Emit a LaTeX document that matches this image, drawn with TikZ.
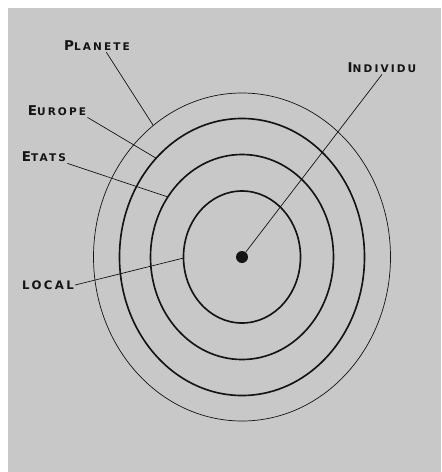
\documentclass[tikz,border=0pt]{standalone}
\usepackage{fontspec}
\usetikzlibrary{shapes.geometric}
\newfontfamily\tagfont[LetterSpace=20]{DejaVu Sans}
\definecolor{Paper}{HTML}{C8C8C8}
\definecolor{Ink}{HTML}{141414}
\newcommand{\bigsmall}[2]{{\fontsize{11.5}{12}\selectfont #1}{\fontsize{9}{10}\selectfont #2}}

\begin{document}
\begin{tikzpicture}[
            x=0.03cm, y=-0.03cm,
            ring/.style={
                ellipse,
                draw=Ink,
                line width=1.4pt,
                inner sep=0pt,
                outer sep=0pt
            },
            thinring/.style={ring, line width=0.6pt},
            tag/.style={font=\tagfont\bfseries, text=Ink, inner sep=1pt},
            leader/.style={draw=Ink, line width=0.6pt}
        ]
            \useasboundingbox (0,0) rectangle (441,472);
            \fill[Paper] (8,8) rectangle (441,472);

            % Rings, planet to local
            \node[thinring, minimum width=8.91cm, minimum height=9.84cm] (ringplanete) at (242,257) {};
            \node[ring, minimum width=7.35cm, minimum height=8.31cm] (ringeurope) at (242,257) {};
            \node[ring, minimum width=5.49cm, minimum height=6.15cm] (ringetats) at (242,257) {};
            \node[ring, minimum width=3.51cm, minimum height=3.96cm] (ringlocal) at (242,257) {};
            \node[circle, fill=Ink, minimum size=0.36cm, inner sep=0pt] (dot) at (242,257) {};

            % Labels
            \node[tag] (planete) at (97,46) {\bigsmall{P}{LANETE}};
            \node[tag] (individu) at (382,68) {\bigsmall{I}{NDIVIDU}};
            \node[tag] (europe) at (57,111) {\bigsmall{E}{UROPE}};
            \node[tag] (etats) at (44,157) {\bigsmall{E}{TATS}};
            \node[tag, font=\tagfont\bfseries\fontsize{10}{11}\selectfont] (local) at (48,285) {LOCAL};

            % Leaders
            \draw[leader] ([xshift=8pt]planete.south) -- (ringplanete.124);
            \draw[leader] (europe.south east) -- (ringeurope.131);
            \draw[leader] (etats.south east) -- (ringetats.141);
            \draw[leader] (local.east) -- (ringlocal.181);
            \draw[leader] (individu.south) -- (dot);
        \end{tikzpicture}
\end{document}
